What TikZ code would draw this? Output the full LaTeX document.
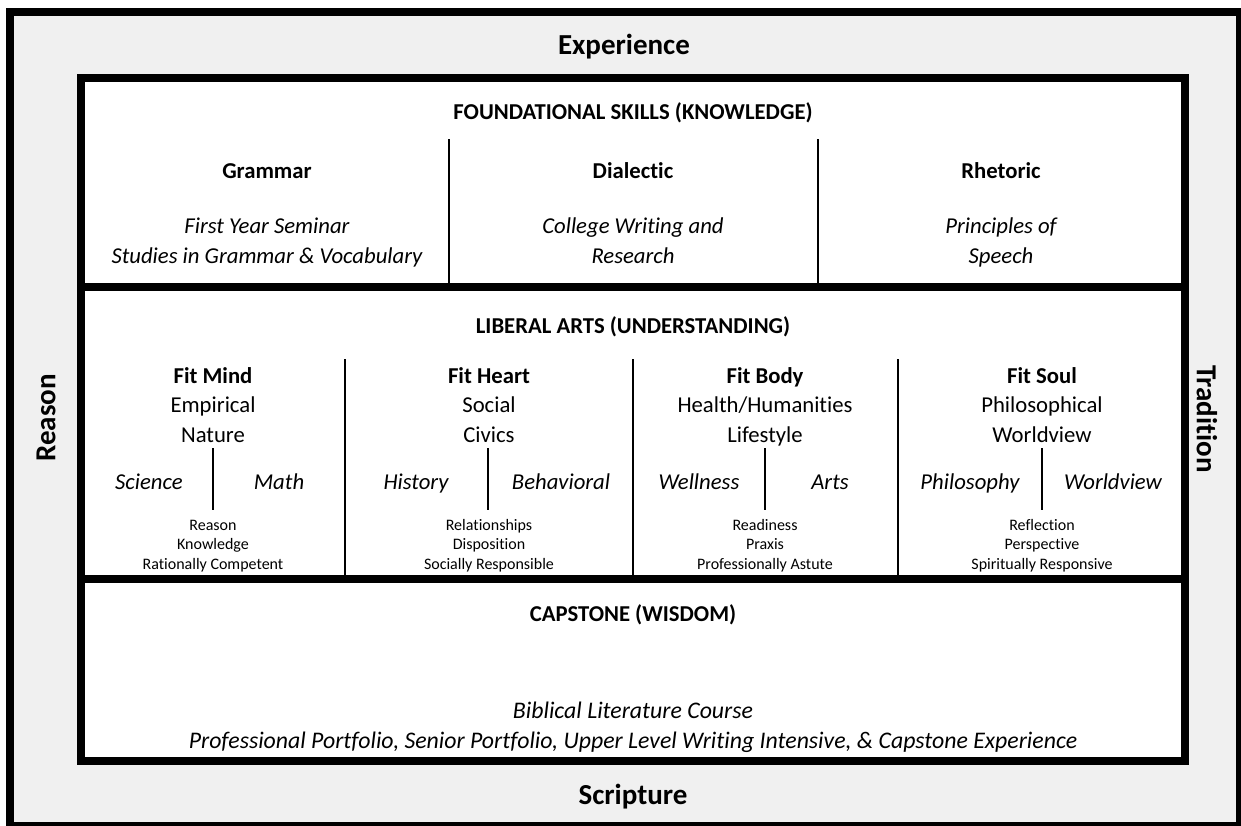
\documentclass[tikz,border=0pt]{standalone}
\usepackage{fontspec}
\setmainfont{Carlito}[RawFeature={-liga}]
\usepackage{xcolor}
\usepackage{tikz}
\definecolor{sidegray}{RGB}{240,240,240}
\tikzstyle{side} = [font=\fontsize{29}{35}\selectfont\bfseries, inner sep=0pt]
\tikzstyle{title} = [anchor=base, font=\fontsize{22.7}{29.5}\selectfont\bfseries, inner sep=0pt]
\tikzstyle{course} = [anchor=base, align=center, font=\fontsize{22.7}{29.3}\selectfont\itshape, inner sep=0pt]
\tikzstyle{fit} = [anchor=base, align=center, font=\fontsize{22.7}{29.5}\selectfont, inner sep=0pt]
\tikzstyle{branch} = [anchor=base, font=\fontsize{22.7}{29.5}\selectfont\itshape, inner sep=0pt]
\tikzstyle{trait} = [anchor=base, align=center, font=\fontsize{16}{19.5}\selectfont, inner sep=0pt]
\tikzstyle{frame} = [line width=8pt]
\tikzstyle{thin} = [line width=2pt]

\begin{document}
\begin{tikzpicture}[x=1pt,y=-1pt]

	\useasboundingbox (0,0) rectangle (1241,825);
	\draw [frame, fill=sidegray] (10,12) rectangle (1240,826);
	\draw [frame, fill=white] (81,78) rectangle (1185,761);
	\draw [frame] (81,287) -- (1185,287);
	\draw [frame] (81,579) -- (1185,579);

	% outer labels
	\node (experience) [side, anchor=base] at (624,54) {Experience};
	\node (scripture) [side, anchor=base] at (633,804) {Scripture};
	\node (reason) [side, rotate=90] at (46,418) {Reason};
	\node (tradition) [side, rotate=-90] at (1207,419) {Tradition};

	% foundational skills
	\node (found) [title] at (633,119) {FOUNDATIONAL SKILLS (KNOWLEDGE)};
	\draw [thin] (449,139) -- (449,287);
	\draw [thin] (818,139) -- (818,287);
	\node (grammar) [title] at (267,178) {Grammar};
	\node (dialectic) [title] at (633,178) {Dialectic};
	\node (rhetoric) [title] at (1001,178) {Rhetoric};
	\node (grammarc) [course] at (267,263) {First Year Seminar\\Studies in Grammar \& Vocabulary};
	\node (dialecticc) [course] at (633,263) {College Writing and\\Research};
	\node (rhetoricc) [course] at (1001,263) {Principles of\\Speech};

	% liberal arts
	\node (liberal) [title] at (633,333) {LIBERAL ARTS (UNDERSTANDING)};
	\draw [thin] (345,359) -- (345,579);
	\draw [thin] (633,359) -- (633,579);
	\draw [thin] (898,359) -- (898,579);

	\node (mind) [fit] at (213,442) {\textbf{Fit Mind}\\Empirical\\Nature};
	\node (heart) [fit] at (489,442) {\textbf{Fit Heart}\\Social\\Civics};
	\node (body) [fit] at (765,442) {\textbf{Fit Body}\\Health/Humanities\\Lifestyle};
	\node (soul) [fit] at (1042,442) {\textbf{Fit Soul}\\Philosophical\\Worldview};

	\draw [thin] (213,448) -- (213,510);
	\draw [thin] (488,448) -- (488,510);
	\draw [thin] (765,448) -- (765,510);
	\draw [thin] (1042,448) -- (1042,510);

	\node (science) [branch] at (149,489) {Science};
	\node (math) [branch] at (279,489) {Math};
	\node (history) [branch] at (416,489) {History};
	\node (behavioral) [branch] at (561,489) {Behavioral};
	\node (wellness) [branch] at (699,489) {Wellness};
	\node (arts) [branch] at (830,489) {Arts};
	\node (philosophy) [branch] at (970,489) {Philosophy};
	\node (worldview) [branch] at (1113,489) {Worldview};

	\node (mindt) [trait] at (213,569) {Reason\\Knowledge\\Rationally Competent};
	\node (heartt) [trait] at (489,569) {Relationships\\Disposition\\Socially Responsible};
	\node (bodyt) [trait] at (765,569) {Readiness\\Praxis\\Professionally Astute};
	\node (soult) [trait] at (1042,569) {Reflection\\Perspective\\Spiritually Responsive};

	% capstone
	\node (capstone) [title] at (633,621) {CAPSTONE (WISDOM)};
	\node (capstonec) [course, font=\fontsize{23.8}{29.3}\selectfont\itshape] at (633,748) {Biblical Literature Course\\Professional Portfolio, Senior Portfolio, Upper Level Writing Intensive, \& Capstone Experience};

\end{tikzpicture}
\end{document}
